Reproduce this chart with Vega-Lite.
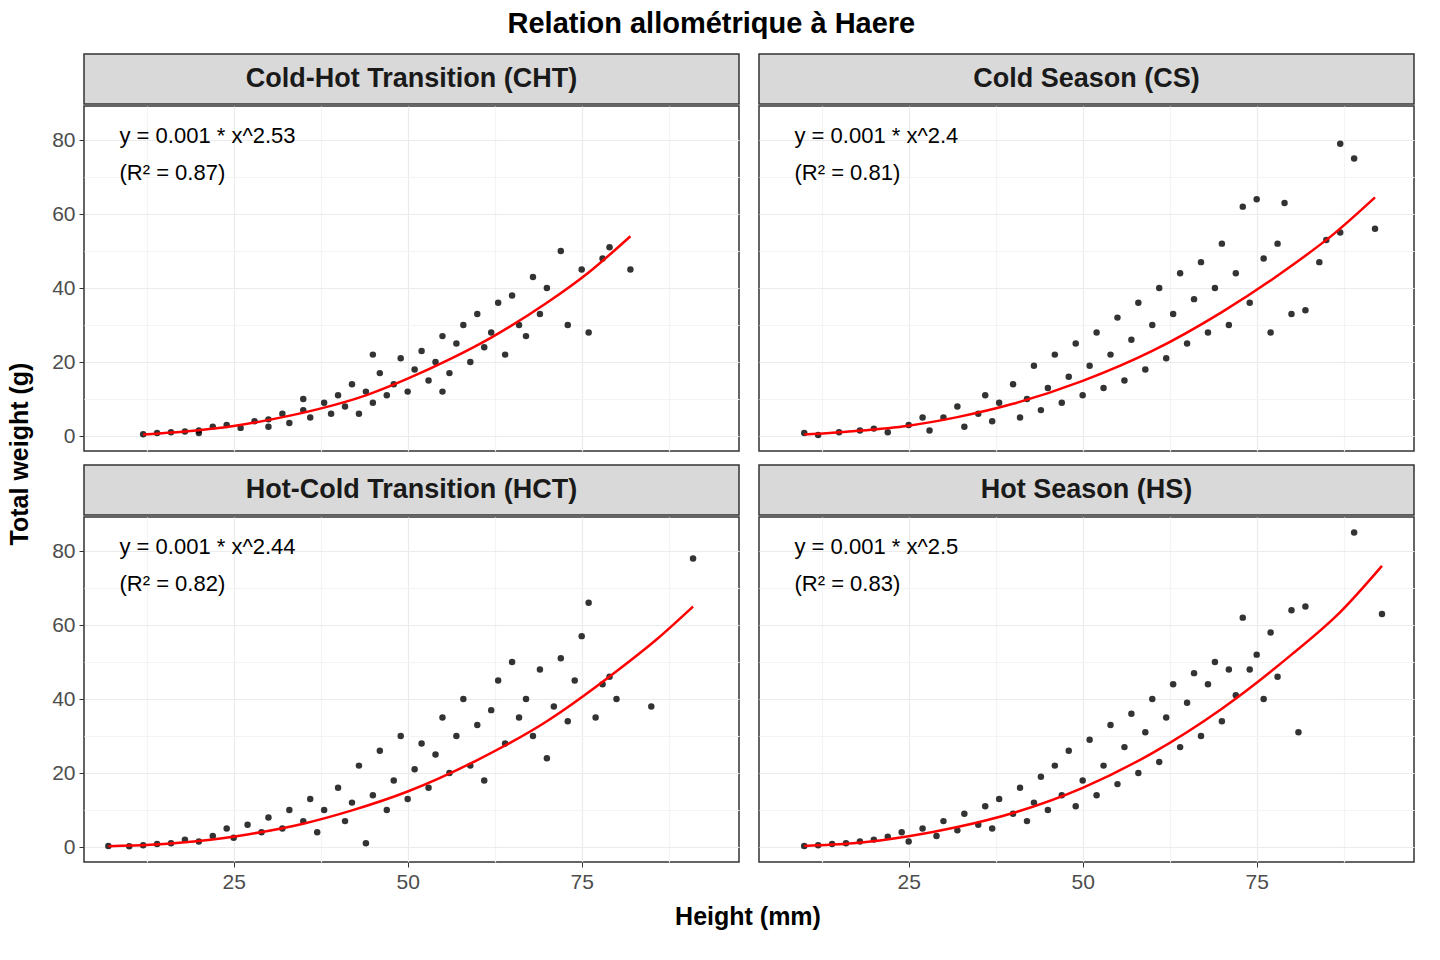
{
  "$schema": "https://vega.github.io/schema/vega-lite/v6.json",
  "background": "white",
  "padding": {"left": 8, "top": 10, "right": 14, "bottom": 5},
  "title": {"text": "Relation allométrique à Haere", "fontSize": 29, "fontWeight": "bold", "font": "Liberation Sans", "color": "#000", "anchor": "middle", "offset": 14},
  "config": {
    "font": "Liberation Sans",
    "concat": {"spacing": 17},
    "axis": {"labelFont": "Liberation Sans", "labelFontSize": 21, "labelColor": "#4d4d4d", "tickColor": "#333", "tickSize": 5, "domain": false, "title": null, "gridWidth": 1.2, "labelPadding": 4}
  },
  "datasets": {
    "pts": [
      {"p":"CHT","h":12,"w":0.5},{"p":"CHT","h":14,"w":0.8},{"p":"CHT","h":16,"w":1},{"p":"CHT","h":18,"w":1.2},{"p":"CHT","h":20,"w":1.5},{"p":"CHT","h":22,"w":2.5},{"p":"CHT","h":24,"w":3},{"p":"CHT","h":26,"w":2.2},{"p":"CHT","h":28,"w":4},{"p":"CHT","h":30,"w":4.5},{"p":"CHT","h":30,"w":2.5},{"p":"CHT","h":32,"w":6},{"p":"CHT","h":33,"w":3.5},{"p":"CHT","h":35,"w":7},{"p":"CHT","h":36,"w":5},{"p":"CHT","h":38,"w":9},{"p":"CHT","h":39,"w":6},{"p":"CHT","h":40,"w":11},{"p":"CHT","h":41,"w":8},{"p":"CHT","h":42,"w":14},{"p":"CHT","h":43,"w":6},{"p":"CHT","h":44,"w":12},{"p":"CHT","h":45,"w":9},{"p":"CHT","h":46,"w":17},{"p":"CHT","h":47,"w":11},{"p":"CHT","h":48,"w":14},{"p":"CHT","h":49,"w":21},{"p":"CHT","h":50,"w":12},{"p":"CHT","h":51,"w":18},{"p":"CHT","h":52,"w":23},{"p":"CHT","h":53,"w":15},{"p":"CHT","h":54,"w":20},{"p":"CHT","h":55,"w":27},{"p":"CHT","h":56,"w":17},{"p":"CHT","h":57,"w":25},{"p":"CHT","h":58,"w":30},{"p":"CHT","h":59,"w":20},{"p":"CHT","h":60,"w":33},{"p":"CHT","h":61,"w":24},{"p":"CHT","h":62,"w":28},{"p":"CHT","h":63,"w":36},{"p":"CHT","h":64,"w":22},{"p":"CHT","h":65,"w":38},{"p":"CHT","h":66,"w":30},{"p":"CHT","h":67,"w":27},{"p":"CHT","h":68,"w":43},{"p":"CHT","h":69,"w":33},{"p":"CHT","h":70,"w":40},{"p":"CHT","h":72,"w":50},{"p":"CHT","h":73,"w":30},{"p":"CHT","h":75,"w":45},{"p":"CHT","h":76,"w":28},{"p":"CHT","h":78,"w":48},{"p":"CHT","h":79,"w":51},{"p":"CHT","h":82,"w":45},{"p":"CHT","h":20,"w":0.8},{"p":"CHT","h":35,"w":10},{"p":"CHT","h":45,"w":22},{"p":"CHT","h":55,"w":12},
      {"p":"CS","h":10,"w":0.8},{"p":"CS","h":12,"w":0.3},{"p":"CS","h":15,"w":1},{"p":"CS","h":18,"w":1.5},{"p":"CS","h":20,"w":2},{"p":"CS","h":22,"w":1},{"p":"CS","h":25,"w":3},{"p":"CS","h":27,"w":5},{"p":"CS","h":28,"w":1.5},{"p":"CS","h":30,"w":5},{"p":"CS","h":32,"w":8},{"p":"CS","h":33,"w":2.5},{"p":"CS","h":35,"w":6},{"p":"CS","h":36,"w":11},{"p":"CS","h":37,"w":4},{"p":"CS","h":38,"w":9},{"p":"CS","h":40,"w":14},{"p":"CS","h":41,"w":5},{"p":"CS","h":42,"w":10},{"p":"CS","h":43,"w":19},{"p":"CS","h":44,"w":7},{"p":"CS","h":45,"w":13},{"p":"CS","h":46,"w":22},{"p":"CS","h":47,"w":9},{"p":"CS","h":48,"w":16},{"p":"CS","h":49,"w":25},{"p":"CS","h":50,"w":11},{"p":"CS","h":51,"w":19},{"p":"CS","h":52,"w":28},{"p":"CS","h":53,"w":13},{"p":"CS","h":54,"w":22},{"p":"CS","h":55,"w":32},{"p":"CS","h":56,"w":15},{"p":"CS","h":57,"w":26},{"p":"CS","h":58,"w":36},{"p":"CS","h":59,"w":18},{"p":"CS","h":60,"w":30},{"p":"CS","h":61,"w":40},{"p":"CS","h":62,"w":21},{"p":"CS","h":63,"w":33},{"p":"CS","h":64,"w":44},{"p":"CS","h":65,"w":25},{"p":"CS","h":66,"w":37},{"p":"CS","h":67,"w":47},{"p":"CS","h":68,"w":28},{"p":"CS","h":69,"w":40},{"p":"CS","h":70,"w":52},{"p":"CS","h":71,"w":30},{"p":"CS","h":72,"w":44},{"p":"CS","h":73,"w":62},{"p":"CS","h":74,"w":36},{"p":"CS","h":75,"w":64},{"p":"CS","h":76,"w":48},{"p":"CS","h":77,"w":28},{"p":"CS","h":78,"w":52},{"p":"CS","h":79,"w":63},{"p":"CS","h":80,"w":33},{"p":"CS","h":82,"w":34},{"p":"CS","h":84,"w":47},{"p":"CS","h":85,"w":53},{"p":"CS","h":87,"w":55},{"p":"CS","h":87,"w":79},{"p":"CS","h":89,"w":75},{"p":"CS","h":92,"w":56},
      {"p":"HCT","h":7,"w":0.3},{"p":"HCT","h":10,"w":0.2},{"p":"HCT","h":12,"w":0.5},{"p":"HCT","h":14,"w":0.8},{"p":"HCT","h":16,"w":1},{"p":"HCT","h":18,"w":2},{"p":"HCT","h":20,"w":1.5},{"p":"HCT","h":22,"w":3},{"p":"HCT","h":24,"w":5},{"p":"HCT","h":25,"w":2.5},{"p":"HCT","h":27,"w":6},{"p":"HCT","h":29,"w":4},{"p":"HCT","h":30,"w":8},{"p":"HCT","h":32,"w":5},{"p":"HCT","h":33,"w":10},{"p":"HCT","h":35,"w":7},{"p":"HCT","h":36,"w":13},{"p":"HCT","h":37,"w":4},{"p":"HCT","h":38,"w":10},{"p":"HCT","h":40,"w":16},{"p":"HCT","h":41,"w":7},{"p":"HCT","h":42,"w":12},{"p":"HCT","h":43,"w":22},{"p":"HCT","h":44,"w":1},{"p":"HCT","h":45,"w":14},{"p":"HCT","h":46,"w":26},{"p":"HCT","h":47,"w":10},{"p":"HCT","h":48,"w":18},{"p":"HCT","h":49,"w":30},{"p":"HCT","h":50,"w":13},{"p":"HCT","h":51,"w":21},{"p":"HCT","h":52,"w":28},{"p":"HCT","h":53,"w":16},{"p":"HCT","h":54,"w":25},{"p":"HCT","h":55,"w":35},{"p":"HCT","h":56,"w":20},{"p":"HCT","h":57,"w":30},{"p":"HCT","h":58,"w":40},{"p":"HCT","h":59,"w":22},{"p":"HCT","h":60,"w":33},{"p":"HCT","h":61,"w":18},{"p":"HCT","h":62,"w":37},{"p":"HCT","h":63,"w":45},{"p":"HCT","h":64,"w":28},{"p":"HCT","h":65,"w":50},{"p":"HCT","h":66,"w":35},{"p":"HCT","h":67,"w":40},{"p":"HCT","h":68,"w":30},{"p":"HCT","h":69,"w":48},{"p":"HCT","h":70,"w":24},{"p":"HCT","h":71,"w":38},{"p":"HCT","h":72,"w":51},{"p":"HCT","h":73,"w":34},{"p":"HCT","h":74,"w":45},{"p":"HCT","h":75,"w":57},{"p":"HCT","h":76,"w":66},{"p":"HCT","h":77,"w":35},{"p":"HCT","h":78,"w":44},{"p":"HCT","h":79,"w":46},{"p":"HCT","h":80,"w":40},{"p":"HCT","h":85,"w":38},{"p":"HCT","h":91,"w":78},
      {"p":"HS","h":10,"w":0.3},{"p":"HS","h":12,"w":0.5},{"p":"HS","h":14,"w":0.8},{"p":"HS","h":16,"w":1},{"p":"HS","h":18,"w":1.5},{"p":"HS","h":20,"w":2},{"p":"HS","h":22,"w":2.8},{"p":"HS","h":24,"w":4},{"p":"HS","h":25,"w":1.5},{"p":"HS","h":27,"w":5},{"p":"HS","h":29,"w":3},{"p":"HS","h":30,"w":7},{"p":"HS","h":32,"w":4.5},{"p":"HS","h":33,"w":9},{"p":"HS","h":35,"w":6},{"p":"HS","h":36,"w":11},{"p":"HS","h":37,"w":5},{"p":"HS","h":38,"w":13},{"p":"HS","h":40,"w":9},{"p":"HS","h":41,"w":16},{"p":"HS","h":42,"w":7},{"p":"HS","h":43,"w":12},{"p":"HS","h":44,"w":19},{"p":"HS","h":45,"w":10},{"p":"HS","h":46,"w":22},{"p":"HS","h":47,"w":14},{"p":"HS","h":48,"w":26},{"p":"HS","h":49,"w":11},{"p":"HS","h":50,"w":18},{"p":"HS","h":51,"w":29},{"p":"HS","h":52,"w":14},{"p":"HS","h":53,"w":22},{"p":"HS","h":54,"w":33},{"p":"HS","h":55,"w":17},{"p":"HS","h":56,"w":27},{"p":"HS","h":57,"w":36},{"p":"HS","h":58,"w":20},{"p":"HS","h":59,"w":31},{"p":"HS","h":60,"w":40},{"p":"HS","h":61,"w":23},{"p":"HS","h":62,"w":35},{"p":"HS","h":63,"w":44},{"p":"HS","h":64,"w":27},{"p":"HS","h":65,"w":39},{"p":"HS","h":66,"w":47},{"p":"HS","h":67,"w":30},{"p":"HS","h":68,"w":44},{"p":"HS","h":69,"w":50},{"p":"HS","h":70,"w":34},{"p":"HS","h":71,"w":48},{"p":"HS","h":72,"w":41},{"p":"HS","h":73,"w":62},{"p":"HS","h":74,"w":48},{"p":"HS","h":75,"w":52},{"p":"HS","h":76,"w":40},{"p":"HS","h":77,"w":58},{"p":"HS","h":78,"w":46},{"p":"HS","h":80,"w":64},{"p":"HS","h":81,"w":31},{"p":"HS","h":82,"w":65},{"p":"HS","h":89,"w":85},{"p":"HS","h":93,"w":63}
    ],
    "fit": [
      {"p":"CHT","h":12,"w":0.4},{"p":"CHT","h":18,"w":1.2},{"p":"CHT","h":25,"w":2.7},{"p":"CHT","h":31,"w":4.7},{"p":"CHT","h":37,"w":7.2},{"p":"CHT","h":44,"w":11},{"p":"CHT","h":50,"w":15.5},{"p":"CHT","h":56,"w":20.7},{"p":"CHT","h":62,"w":26.6},{"p":"CHT","h":70,"w":36},{"p":"CHT","h":76,"w":44.2},{"p":"CHT","h":82,"w":54},
      {"p":"CS","h":10,"w":0.4},{"p":"CS","h":17,"w":1.3},{"p":"CS","h":25,"w":2.8},{"p":"CS","h":32,"w":5.1},{"p":"CS","h":40,"w":8.7},{"p":"CS","h":50,"w":14.9},{"p":"CS","h":60,"w":23},{"p":"CS","h":70,"w":33.5},{"p":"CS","h":80,"w":46},{"p":"CS","h":86,"w":54.5},{"p":"CS","h":92,"w":64.5},
      {"p":"HCT","h":7,"w":0.2},{"p":"HCT","h":13,"w":0.6},{"p":"HCT","h":20,"w":1.6},{"p":"HCT","h":27,"w":3.4},{"p":"HCT","h":35,"w":6.3},{"p":"HCT","h":42,"w":9.9},{"p":"HCT","h":50,"w":15},{"p":"HCT","h":60,"w":23.5},{"p":"HCT","h":70,"w":34},{"p":"HCT","h":80,"w":47.5},{"p":"HCT","h":86,"w":56.5},{"p":"HCT","h":91,"w":65},
      {"p":"HS","h":10,"w":0.3},{"p":"HS","h":17,"w":1},{"p":"HS","h":25,"w":2.9},{"p":"HS","h":32,"w":5.4},{"p":"HS","h":40,"w":9.2},{"p":"HS","h":50,"w":16},{"p":"HS","h":60,"w":25.4},{"p":"HS","h":70,"w":37.4},{"p":"HS","h":80,"w":52},{"p":"HS","h":87,"w":63.5},{"p":"HS","h":93,"w":76}
    ],
    "ann": [
      {"p":"CHT","l1":"y = 0.001 * x^2.53","l2":"(R² = 0.87)"},
      {"p":"CS","l1":"y = 0.001 * x^2.4","l2":"(R² = 0.81)"},
      {"p":"HCT","l1":"y = 0.001 * x^2.44","l2":"(R² = 0.82)"},
      {"p":"HS","l1":"y = 0.001 * x^2.5","l2":"(R² = 0.83)"}
    ]
  },
  "hconcat": [
    {
      "width": 18, "height": 800,
      "data": {"values": [{}]},
      "view": {"stroke": null},
      "mark": {"type": "text", "text": "Total weight (g)", "angle": 270, "fontSize": 25, "fontWeight": "bold", "color": "#000"},
      "encoding": {}
    },
    {
      "spacing": 12,
      "vconcat": [
        {"spacing": 18, "hconcat": [
          {"spacing": 0, "vconcat": [
            {"width": 655, "height": 50, "data": {"values": [{}]}, "view": {"fill": "#d9d9d9", "stroke": "#333", "strokeWidth": 1.5}, "mark": {"type": "text", "text": "Cold-Hot Transition (CHT)", "fontSize": 27, "fontWeight": "bold", "color": "#1a1a1a"}, "encoding": {}},
            {"width": 655, "height": 345, "view": {"stroke": "#333", "strokeWidth": 1.5},
             "layer": [
               {"data": {"name": "pts"}, "transform": [{"filter": "datum.p == 'CHT'"}], "mark": {"type": "circle", "size": 42, "color": "#000", "opacity": 0.8},
                "encoding": {
                  "x": {"field": "h", "type": "quantitative", "scale": {"domain": [3.5, 97.6], "nice": false, "zero": false}, "axis": {"values": [12.5,25,37.5,50,62.5,75,87.5], "labels": false, "ticks": false, "gridColor": {"condition": {"test": "datum.value % 25 == 0", "value": "#ebebeb"}, "value": "#f4f4f4"}}},
                  "y": {"field": "w", "type": "quantitative", "scale": {"domain": [-4.05, 89.2], "nice": false, "zero": false}, "axis": {"values": [0,10,20,30,40,50,60,70,80], "labelExpr": "datum.value % 20 == 0 ? datum.label : ''", "tickColor": {"condition": {"test": "datum.value % 20 == 0", "value": "#333"}, "value": "transparent"}, "gridColor": {"condition": {"test": "datum.value % 20 == 0", "value": "#ebebeb"}, "value": "#f4f4f4"}}}
                }},
               {"data": {"name": "fit"}, "transform": [{"filter": "datum.p == 'CHT'"}], "mark": {"type": "line", "color": "#ff0000", "strokeWidth": 2.5, "interpolate": "monotone"}, "encoding": {"x": {"field": "h", "type": "quantitative"}, "y": {"field": "w", "type": "quantitative"}}},
               {"data": {"name": "ann"}, "transform": [{"filter": "datum.p == 'CHT'"}], "mark": {"type": "text", "align": "left", "fontSize": 22, "color": "#000"}, "encoding": {"text": {"field": "l1"}, "x": {"datum": 8.6, "type": "quantitative"}, "y": {"datum": 81, "type": "quantitative"}}},
               {"data": {"name": "ann"}, "transform": [{"filter": "datum.p == 'CHT'"}], "mark": {"type": "text", "align": "left", "fontSize": 22, "color": "#000"}, "encoding": {"text": {"field": "l2"}, "x": {"datum": 8.6, "type": "quantitative"}, "y": {"datum": 71.2, "type": "quantitative"}}}
             ]}
          ]},
          {"spacing": 0, "vconcat": [
            {"width": 655, "height": 50, "data": {"values": [{}]}, "view": {"fill": "#d9d9d9", "stroke": "#333", "strokeWidth": 1.5}, "mark": {"type": "text", "text": "Cold Season (CS)", "fontSize": 27, "fontWeight": "bold", "color": "#1a1a1a"}, "encoding": {}},
            {"width": 655, "height": 345, "view": {"stroke": "#333", "strokeWidth": 1.5},
             "layer": [
               {"data": {"name": "pts"}, "transform": [{"filter": "datum.p == 'CS'"}], "mark": {"type": "circle", "size": 42, "color": "#000", "opacity": 0.8},
                "encoding": {
                  "x": {"field": "h", "type": "quantitative", "scale": {"domain": [3.5, 97.6], "nice": false, "zero": false}, "axis": {"values": [12.5,25,37.5,50,62.5,75,87.5], "labels": false, "ticks": false, "gridColor": {"condition": {"test": "datum.value % 25 == 0", "value": "#ebebeb"}, "value": "#f4f4f4"}}},
                  "y": {"field": "w", "type": "quantitative", "scale": {"domain": [-4.05, 89.2], "nice": false, "zero": false}, "axis": {"values": [0,10,20,30,40,50,60,70,80], "labels": false, "ticks": false, "gridColor": {"condition": {"test": "datum.value % 20 == 0", "value": "#ebebeb"}, "value": "#f4f4f4"}}}
                }},
               {"data": {"name": "fit"}, "transform": [{"filter": "datum.p == 'CS'"}], "mark": {"type": "line", "color": "#ff0000", "strokeWidth": 2.5, "interpolate": "monotone"}, "encoding": {"x": {"field": "h", "type": "quantitative"}, "y": {"field": "w", "type": "quantitative"}}},
               {"data": {"name": "ann"}, "transform": [{"filter": "datum.p == 'CS'"}], "mark": {"type": "text", "align": "left", "fontSize": 22, "color": "#000"}, "encoding": {"text": {"field": "l1"}, "x": {"datum": 8.6, "type": "quantitative"}, "y": {"datum": 81, "type": "quantitative"}}},
               {"data": {"name": "ann"}, "transform": [{"filter": "datum.p == 'CS'"}], "mark": {"type": "text", "align": "left", "fontSize": 22, "color": "#000"}, "encoding": {"text": {"field": "l2"}, "x": {"datum": 8.6, "type": "quantitative"}, "y": {"datum": 71.2, "type": "quantitative"}}}
             ]}
          ]}
        ]},
        {"spacing": 18, "hconcat": [
          {"spacing": 0, "vconcat": [
            {"width": 655, "height": 50, "data": {"values": [{}]}, "view": {"fill": "#d9d9d9", "stroke": "#333", "strokeWidth": 1.5}, "mark": {"type": "text", "text": "Hot-Cold Transition (HCT)", "fontSize": 27, "fontWeight": "bold", "color": "#1a1a1a"}, "encoding": {}},
            {"width": 655, "height": 345, "view": {"stroke": "#333", "strokeWidth": 1.5},
             "layer": [
               {"data": {"name": "pts"}, "transform": [{"filter": "datum.p == 'HCT'"}], "mark": {"type": "circle", "size": 42, "color": "#000", "opacity": 0.8},
                "encoding": {
                  "x": {"field": "h", "type": "quantitative", "scale": {"domain": [3.5, 97.6], "nice": false, "zero": false}, "axis": {"values": [12.5,25,37.5,50,62.5,75,87.5], "labelExpr": "datum.value % 25 == 0 ? datum.label : ''", "tickColor": {"condition": {"test": "datum.value % 25 == 0", "value": "#333"}, "value": "transparent"}, "gridColor": {"condition": {"test": "datum.value % 25 == 0", "value": "#ebebeb"}, "value": "#f4f4f4"}}},
                  "y": {"field": "w", "type": "quantitative", "scale": {"domain": [-4.05, 89.2], "nice": false, "zero": false}, "axis": {"values": [0,10,20,30,40,50,60,70,80], "labelExpr": "datum.value % 20 == 0 ? datum.label : ''", "tickColor": {"condition": {"test": "datum.value % 20 == 0", "value": "#333"}, "value": "transparent"}, "gridColor": {"condition": {"test": "datum.value % 20 == 0", "value": "#ebebeb"}, "value": "#f4f4f4"}}}
                }},
               {"data": {"name": "fit"}, "transform": [{"filter": "datum.p == 'HCT'"}], "mark": {"type": "line", "color": "#ff0000", "strokeWidth": 2.5, "interpolate": "monotone"}, "encoding": {"x": {"field": "h", "type": "quantitative"}, "y": {"field": "w", "type": "quantitative"}}},
               {"data": {"name": "ann"}, "transform": [{"filter": "datum.p == 'HCT'"}], "mark": {"type": "text", "align": "left", "fontSize": 22, "color": "#000"}, "encoding": {"text": {"field": "l1"}, "x": {"datum": 8.6, "type": "quantitative"}, "y": {"datum": 81, "type": "quantitative"}}},
               {"data": {"name": "ann"}, "transform": [{"filter": "datum.p == 'HCT'"}], "mark": {"type": "text", "align": "left", "fontSize": 22, "color": "#000"}, "encoding": {"text": {"field": "l2"}, "x": {"datum": 8.6, "type": "quantitative"}, "y": {"datum": 71.2, "type": "quantitative"}}}
             ]}
          ]},
          {"spacing": 0, "vconcat": [
            {"width": 655, "height": 50, "data": {"values": [{}]}, "view": {"fill": "#d9d9d9", "stroke": "#333", "strokeWidth": 1.5}, "mark": {"type": "text", "text": "Hot Season (HS)", "fontSize": 27, "fontWeight": "bold", "color": "#1a1a1a"}, "encoding": {}},
            {"width": 655, "height": 345, "view": {"stroke": "#333", "strokeWidth": 1.5},
             "layer": [
               {"data": {"name": "pts"}, "transform": [{"filter": "datum.p == 'HS'"}], "mark": {"type": "circle", "size": 42, "color": "#000", "opacity": 0.8},
                "encoding": {
                  "x": {"field": "h", "type": "quantitative", "scale": {"domain": [3.5, 97.6], "nice": false, "zero": false}, "axis": {"values": [12.5,25,37.5,50,62.5,75,87.5], "labelExpr": "datum.value % 25 == 0 ? datum.label : ''", "tickColor": {"condition": {"test": "datum.value % 25 == 0", "value": "#333"}, "value": "transparent"}, "gridColor": {"condition": {"test": "datum.value % 25 == 0", "value": "#ebebeb"}, "value": "#f4f4f4"}}},
                  "y": {"field": "w", "type": "quantitative", "scale": {"domain": [-4.05, 89.2], "nice": false, "zero": false}, "axis": {"values": [0,10,20,30,40,50,60,70,80], "labels": false, "ticks": false, "gridColor": {"condition": {"test": "datum.value % 20 == 0", "value": "#ebebeb"}, "value": "#f4f4f4"}}}
                }},
               {"data": {"name": "fit"}, "transform": [{"filter": "datum.p == 'HS'"}], "mark": {"type": "line", "color": "#ff0000", "strokeWidth": 2.5, "interpolate": "monotone"}, "encoding": {"x": {"field": "h", "type": "quantitative"}, "y": {"field": "w", "type": "quantitative"}}},
               {"data": {"name": "ann"}, "transform": [{"filter": "datum.p == 'HS'"}], "mark": {"type": "text", "align": "left", "fontSize": 22, "color": "#000"}, "encoding": {"text": {"field": "l1"}, "x": {"datum": 8.6, "type": "quantitative"}, "y": {"datum": 81, "type": "quantitative"}}},
               {"data": {"name": "ann"}, "transform": [{"filter": "datum.p == 'HS'"}], "mark": {"type": "text", "align": "left", "fontSize": 22, "color": "#000"}, "encoding": {"text": {"field": "l2"}, "x": {"datum": 8.6, "type": "quantitative"}, "y": {"datum": 71.2, "type": "quantitative"}}}
             ]}
          ]}
        ]},
        {"width": 1328, "height": 20, "data": {"values": [{}]}, "view": {"stroke": null}, "mark": {"type": "text", "text": "Height (mm)", "fontSize": 25, "fontWeight": "bold", "color": "#000"}, "encoding": {}}
      ]
    }
  ]
}
